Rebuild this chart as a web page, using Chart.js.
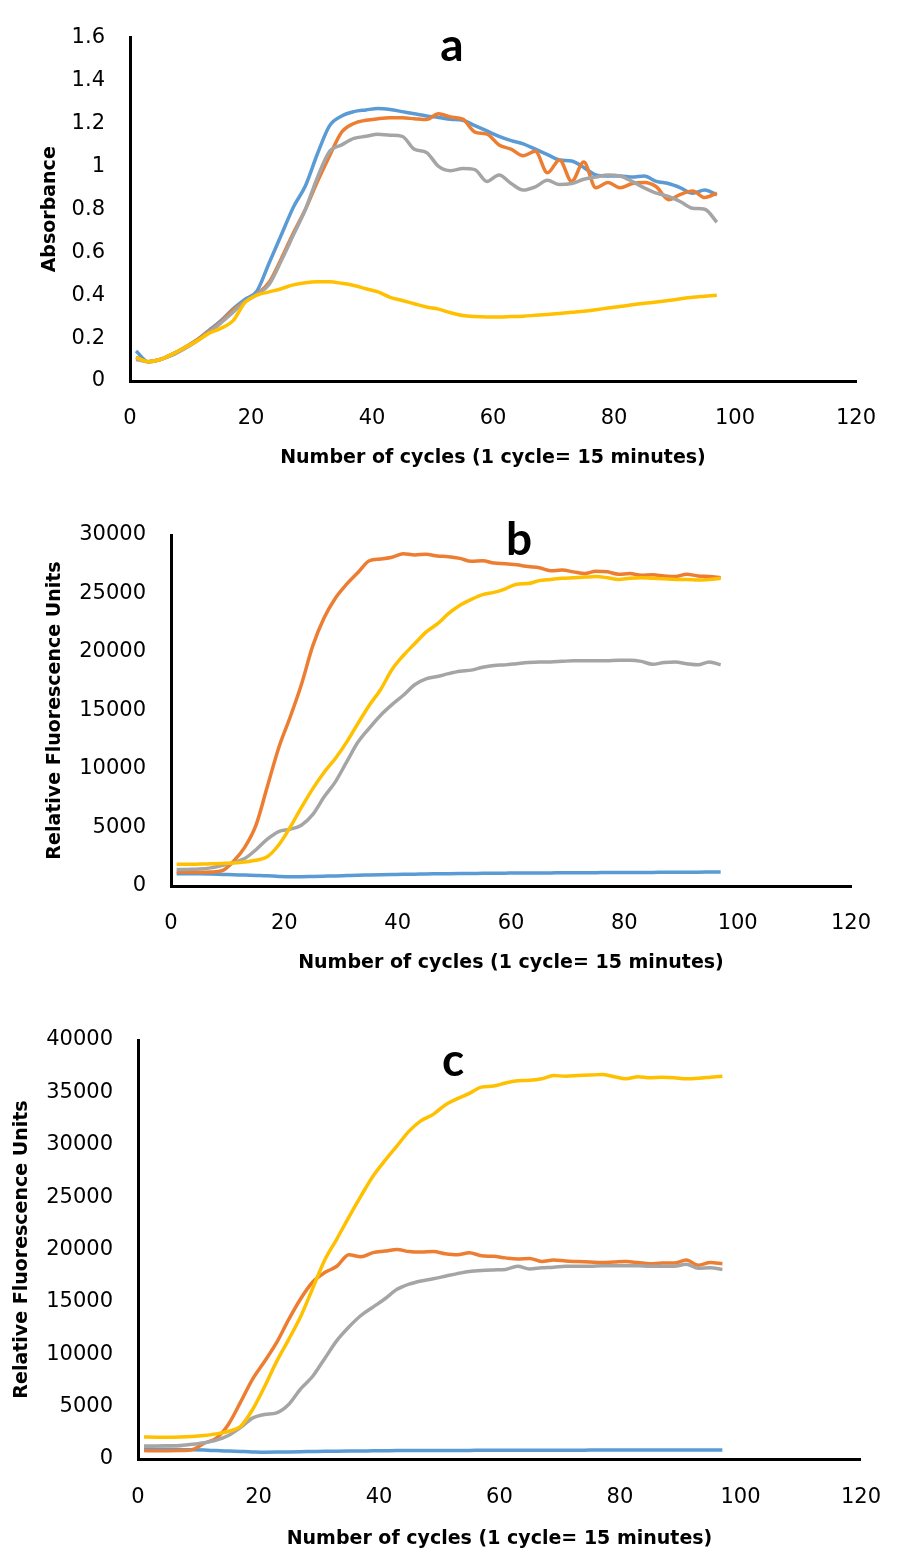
<!DOCTYPE html>
<html>
<head>
<meta charset="utf-8">
<script src="https://cdn.jsdelivr.net/npm/chart.js@4.4.1/dist/chart.umd.min.js"></script>
<style>
    html, body { margin: 0; padding: 0; background: #fff; }
    #page { position: relative; width: 907px; height: 1550px; }
    canvas { position: absolute; left: 0; }
</style>
</head>
<body>
<div id="page">
    <canvas id="chart-a" width="907" height="480" style="top:0px"></canvas>
    <canvas id="chart-b" width="907" height="500" style="top:490px"></canvas>
    <canvas id="chart-c" width="907" height="555" style="top:995px"></canvas>
</div>
<script>
// cycle numbers (every second cycle)
const cycles = [1, 3, 5, 7, 9, 11, 13, 15, 17, 19, 21, 23, 25, 27, 29, 31, 33, 35, 37, 39, 41, 43, 45, 47, 49,
    51, 53, 55, 57, 59, 61, 63, 65, 67, 69, 71, 73, 75, 77, 79, 81, 83, 85, 87, 89, 91, 93, 95, 97];
const xTicks = [0, 20, 40, 60, 80, 100, 120];

// a — absorbance
const aBlue = [0.14, 0.09, 0.10, 0.125, 0.155, 0.19, 0.235, 0.28, 0.335, 0.38, 0.42, 0.55, 0.68, 0.81, 0.91, 1.06, 1.19, 1.235,
    1.255, 1.263, 1.27, 1.265, 1.255, 1.245, 1.235, 1.228, 1.22, 1.215, 1.19, 1.165, 1.14, 1.12, 1.105, 1.08, 1.055,
    1.03, 1.025, 0.995, 0.96, 0.955, 0.955, 0.95, 0.955, 0.93, 0.92, 0.90, 0.875, 0.89, 0.867];
const aOrange = [0.11, 0.09, 0.10, 0.125, 0.155, 0.19, 0.23, 0.275, 0.33, 0.37, 0.405, 0.46, 0.57, 0.69, 0.80, 0.93, 1.05, 1.16,
    1.20, 1.215, 1.222, 1.226, 1.226, 1.222, 1.218, 1.245, 1.23, 1.22, 1.16, 1.15, 1.10, 1.08, 1.05, 1.07, 0.97,
    1.03, 0.93, 1.02, 0.90, 0.925, 0.90, 0.92, 0.925, 0.905, 0.845, 0.87, 0.885, 0.855, 0.875];
const aGray = [0.10, 0.09, 0.10, 0.12, 0.15, 0.185, 0.225, 0.27, 0.32, 0.37, 0.405, 0.45, 0.56, 0.68, 0.80, 0.95, 1.07, 1.10,
    1.13, 1.14, 1.15, 1.145, 1.14, 1.08, 1.065, 1.00, 0.98, 0.99, 0.985, 0.93, 0.96, 0.92, 0.89, 0.905, 0.935,
    0.915, 0.92, 0.94, 0.95, 0.96, 0.955, 0.93, 0.90, 0.875, 0.86, 0.835, 0.805, 0.80, 0.74];
const aYellow = [0.11, 0.09, 0.10, 0.125, 0.155, 0.185, 0.222, 0.245, 0.28, 0.365, 0.40, 0.415, 0.43, 0.448, 0.458, 0.462, 0.462, 0.455,
    0.445, 0.43, 0.415, 0.39, 0.375, 0.36, 0.345, 0.335, 0.318, 0.305, 0.30, 0.298, 0.298, 0.30, 0.302, 0.306, 0.31,
    0.315, 0.32, 0.325, 0.332, 0.34, 0.347, 0.355, 0.362, 0.368, 0.375, 0.383, 0.39, 0.395, 0.40];

// b — fluorescence
const bBlue = [1050, 1050, 1040, 1020, 990, 960, 930, 900, 870, 820, 790, 800, 820, 840, 860, 890, 920, 940,
    960, 980, 1000, 1010, 1030, 1040, 1050, 1060, 1070, 1080, 1090, 1100, 1110, 1110, 1120, 1120, 1130,
    1130, 1140, 1140, 1150, 1150, 1150, 1160, 1160, 1170, 1170, 1180, 1180, 1190, 1200];
const bOrange = [1200, 1180, 1180, 1200, 1300, 2100, 3300, 5200, 8500, 11800, 14400, 17200, 20500, 22900, 24600, 25800, 26800, 27800,
    27950, 28100, 28400, 28300, 28350, 28200, 28150, 28000, 27750, 27800, 27600, 27550, 27450, 27300, 27200, 26950, 27000,
    26850, 26700, 26900, 26850, 26650, 26700, 26550, 26600, 26500, 26450, 26650, 26500, 26450, 26350];
const bGray = [1400, 1420, 1450, 1550, 1750, 2000, 2350, 3100, 4000, 4650, 4850, 5200, 6100, 7600, 8900, 10600, 12300, 13500,
    14600, 15500, 16300, 17200, 17700, 17900, 18150, 18350, 18450, 18700, 18850, 18900, 19000, 19100, 19150, 19150, 19200,
    19250, 19250, 19250, 19260, 19300, 19300, 19200, 18950, 19100, 19150, 19000, 18900, 19150, 18900];
const bYellow = [1850, 1850, 1870, 1900, 1930, 1970, 2050, 2200, 2500, 3500, 5000, 6700, 8300, 9700, 10900, 12300, 13900, 15450,
    16800, 18500, 19700, 20700, 21700, 22400, 23300, 24000, 24500, 24900, 25100, 25400, 25800, 25850, 26100, 26200, 26300,
    26350, 26400, 26450, 26350, 26200, 26300, 26350, 26300, 26250, 26200, 26200, 26150, 26200, 26300];

// c — fluorescence
const cBlue = [950, 940, 920, 900, 880, 850, 800, 760, 720, 680, 650, 660, 680, 700, 720, 740, 750, 760,
    770, 780, 790, 800, 800, 810, 810, 820, 820, 820, 830, 830, 830, 830, 840, 840, 840,
    840, 840, 850, 850, 850, 850, 850, 850, 860, 860, 860, 860, 860, 870];
const cOrange = [800, 790, 790, 800, 900, 1500, 2000, 3300, 5400, 7600, 9300, 11100, 13300, 15300, 16900, 17800, 18400, 19500,
    19300, 19700, 19850, 20000, 19800, 19750, 19800, 19600, 19500, 19700, 19400, 19350, 19200, 19100, 19150, 18850, 19000,
    18900, 18850, 18800, 18750, 18800, 18850, 18750, 18650, 18700, 18700, 19000, 18500, 18750, 18650];
const cGray = [1250, 1250, 1270, 1300, 1400, 1550, 1800, 2250, 3000, 3900, 4250, 4400, 5200, 6700, 7900, 9600, 11300, 12600,
    13700, 14500, 15300, 16200, 16700, 17000, 17200, 17450, 17700, 17900, 18000, 18050, 18100, 18400, 18150, 18250, 18300,
    18400, 18400, 18400, 18450, 18450, 18450, 18450, 18400, 18400, 18400, 18600, 18200, 18250, 18100];
const cYellow = [2100, 2080, 2080, 2100, 2150, 2250, 2400, 2650, 3100, 4700, 6900, 9300, 11400, 13600, 16300, 19000, 21000, 23100,
    25100, 27000, 28500, 29900, 31300, 32300, 32900, 33800, 34400, 34900, 35500, 35600, 35900, 36100, 36150, 36300, 36600,
    36550, 36600, 36650, 36700, 36500, 36300, 36500, 36400, 36450, 36400, 36300, 36350, 36450, 36550];

const COLORS = { blue: '#5B9BD5', orange: '#ED7D31', gray: '#A5A5A5', yellow: '#FFC000' };
const X_TITLE = 'Number of cycles (1 cycle= 15 minutes)';

Chart.defaults.font.family = "'DejaVu Sans', sans-serif";
Chart.defaults.color = '#000';

// panel letter (a / b / c)
const panelLetter = {
    id: 'panelLetter',
    afterDraw(chart, args, opts) {
        const ctx = chart.ctx;
        ctx.save();
        ctx.font = 'bold 46px Lato';
        ctx.fillStyle = '#000';
        ctx.textAlign = 'center';
        ctx.textBaseline = 'alphabetic';
        ctx.fillText(opts.text, opts.x, opts.y);
        ctx.restore();
    }
};

function series(values, color, order) {
    return {
        data: cycles.map((c, i) => ({ x: c, y: values[i] })),
        borderColor: color,
        backgroundColor: color,
        borderWidth: 3.5,
        pointRadius: 0,
        cubicInterpolationMode: 'monotone',
        order: order
    };
}

function makeChart(id, p) {
    const ctx = document.getElementById(id).getContext('2d');
    return new Chart(ctx, {
        type: 'line',
        data: {
            datasets: [
                series(p.sets[0], COLORS.blue, 4),
                series(p.sets[1], COLORS.orange, 3),
                series(p.sets[2], COLORS.gray, 2),
                series(p.sets[3], COLORS.yellow, 1)
            ]
        },
        plugins: [panelLetter],
        options: {
            responsive: false,
            animation: false,
            devicePixelRatio: 1,
            layout: { padding: { left: 0, top: p.top, right: p.right, bottom: 0 } },
            plugins: {
                legend: { display: false },
                tooltip: { enabled: false },
                panelLetter: p.letter
            },
            scales: {
                x: {
                    type: 'linear',
                    min: 0,
                    max: 120,
                    afterBuildTicks: s => { s.ticks = xTicks.map(v => ({ value: v })); },
                    afterFit: s => { s.height = p.xHeight; },
                    grid: { display: false, drawTicks: false },
                    border: { display: true, color: '#000', width: 3 },
                    ticks: { padding: p.xPad, font: { size: 21 }, color: '#000', maxRotation: 0 },
                    title: {
                        display: true,
                        text: X_TITLE,
                        color: '#000',
                        font: { size: 19, weight: 'bold' },
                        padding: { top: 0, bottom: p.xTitlePad }
                    }
                },
                y: {
                    min: 0,
                    max: p.yMax,
                    afterBuildTicks: s => { s.ticks = p.yTicks.map(v => ({ value: v })); },
                    afterFit: s => { s.width = p.left; },
                    grid: { display: false, drawTicks: false },
                    border: { display: true, color: '#000', width: 3 },
                    ticks: { padding: 25, font: { size: 21 }, color: '#000', callback: p.fmt },
                    title: {
                        display: true,
                        text: p.yTitle,
                        color: '#000',
                        font: { size: 19, weight: 'bold' },
                        padding: { top: p.yTitlePad, bottom: 0 }
                    }
                }
            }
        }
    });
}

makeChart('chart-a', {
    sets: [aBlue, aOrange, aGray, aYellow],
    yMax: 1.6,
    yTicks: [0, 0.2, 0.4, 0.6, 0.8, 1, 1.2, 1.4, 1.6],
    fmt: v => String(Number(v.toFixed(1))),
    yTitle: 'Absorbance',
    left: 130, top: 25, right: 51, xHeight: 99,
    xPad: 25, xTitlePad: 11, yTitlePad: 39,
    letter: { text: 'a', x: 452, y: 61 }
});

makeChart('chart-b', {
    sets: [bBlue, bOrange, bGray, bYellow],
    yMax: 30000,
    yTicks: [0, 5000, 10000, 15000, 20000, 25000, 30000],
    fmt: v => String(v),
    yTitle: 'Relative Fluorescence Units',
    left: 171, top: 45, right: 56, xHeight: 104,
    xPad: 25, xTitlePad: 16, yTitlePad: 44,
    letter: { text: 'b', x: 519, y: 65 }
});

makeChart('chart-c', {
    sets: [cBlue, cOrange, cGray, cYellow],
    yMax: 40000,
    yTicks: [0, 5000, 10000, 15000, 20000, 25000, 30000, 35000, 40000],
    fmt: v => String(v),
    yTitle: 'Relative Fluorescence Units',
    left: 138, top: 45, right: 25, xHeight: 91,
    xPad: 26, xTitlePad: 0, yTitlePad: 11,
    letter: { text: 'c', x: 453, y: 81 }
});
</script>
</body>
</html>
